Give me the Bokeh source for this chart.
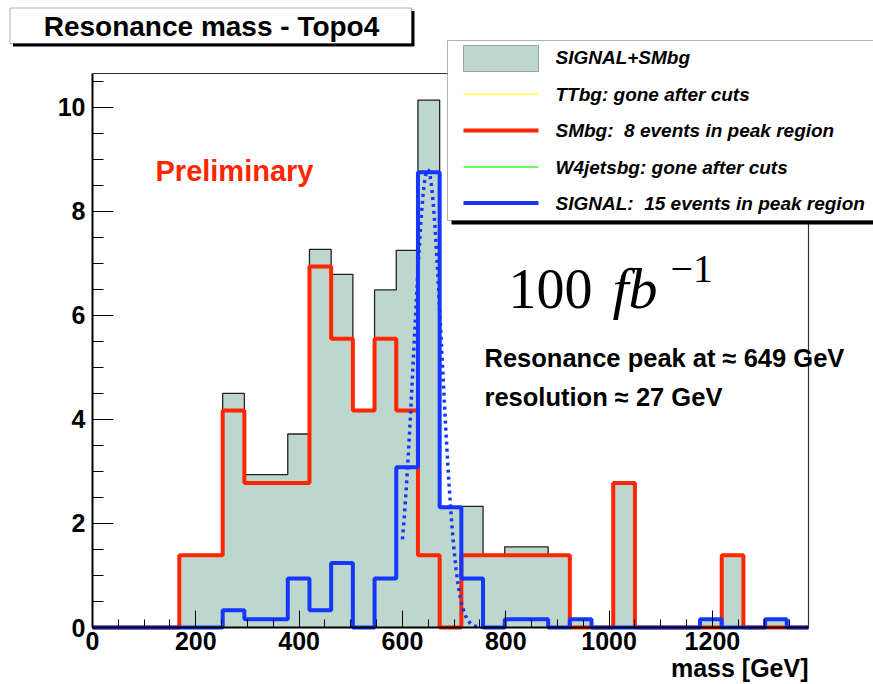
import numpy as np
from bokeh.plotting import figure
from bokeh.models import Range1d, FixedTicker, BoxAnnotation, Label, LinearAxis
from bokeh.embed import file_html
from bokeh.resources import INLINE

# ---- data ----
bin_width = 42
n_bins = 33
smbg = [0, 0, 0, 0, 1.39, 1.39, 4.17, 2.78, 2.78, 2.78, 6.94, 5.55, 4.17, 5.55, 4.17, 1.39,
        0, 1.39, 1.39, 1.39, 1.39, 1.39, 0, 0, 2.78, 0, 0, 0, 0, 1.39, 0, 0, 0]
signal = [0, 0, 0, 0, 0, 0, 0.33, 0.16, 0.16, 0.94, 0.33, 1.24, 0, 0.94, 3.08, 8.75,
          2.31, 0.94, 0, 0.16, 0.16, 0, 0.16, 0, 0, 0, 0, 0, 0.16, 0, 0, 0.16, 0]
fit_mean = 649.0
fit_sigma = 27.0
fit_amp = 8.8
fit_lo, fit_hi = 600.0, 755.0
x_ticks = [0, 200, 400, 600, 800, 1000, 1200]
y_ticks = [0, 2, 4, 6, 8, 10]

legend_labels = ["SIGNAL+SMbg", "TTbg: gone after cuts", "SMbg:\u00a0 8 events in peak region",
                 "W4jetsbg: gone after cuts", "SIGNAL:\u00a0 15 events in peak region"]

edges = np.arange(n_bins + 1) * bin_width
smbg = np.array(smbg)
signal = np.array(signal)
total = smbg + signal

# ---- styling ----
FILL = "#bdd7cf"
RED = "#ff2600"
BLUE = "#1436ff"
YELLOW = "#ffff40"
GREEN = "#30ff30"
FONT = "Liberation Sans"
SERIF = "Liberation Serif"

XMAX = n_bins * bin_width
YMAX = 10.65
W, H = 873, 684
# axis box location on the canvas (px)
AL, AR, AT, AB = 92, 808, 73, 627
XS = (AR - AL) / XMAX
YS = (AB - AT) / YMAX


def X(px):  # canvas px -> data x
    return (px - AL) / XS


def Y(py):  # canvas px -> data y
    return (AB - py) / YS


p = figure(width=W, height=H, output_backend="svg", toolbar_location=None,
           x_range=Range1d(X(0), X(W)), y_range=Range1d(Y(H), Y(0)),
           x_axis_location=None, y_axis_location=None,
           min_border=0, min_border_left=0, min_border_right=0,
           min_border_top=0, min_border_bottom=0)
p.grid.visible = False
p.outline_line_color = None
p.background_fill_color = "white"
p.border_fill_color = "white"

# histograms
p.varea_step(x=edges, y1=np.zeros(n_bins + 1), y2=np.append(total, total[-1]),
             step_mode="after", fill_color=FILL)
p.step(x=edges, y=np.append(total, total[-1]), mode="after", line_color="#222222", line_width=1.3)
p.step(x=edges, y=np.append(smbg, smbg[-1]), mode="after", line_color=RED, line_width=4)
p.step(x=edges, y=np.append(signal, signal[-1]), mode="after", line_color=BLUE, line_width=4)

xf = np.linspace(fit_lo, fit_hi, 200)
yf = fit_amp * np.exp(-0.5 * ((xf - fit_mean) / fit_sigma) ** 2)
p.line(xf, yf, line_color=BLUE, line_width=3.5, line_dash="3 4")

# frame top / right
p.line([0, XMAX, XMAX], [YMAX, YMAX, 0], line_color="#333333", line_width=1.2)

# axes
xaxis = LinearAxis(fixed_location=0, bounds=(0, XMAX))
yaxis = LinearAxis(fixed_location=0, bounds=(0, YMAX))
p.add_layout(xaxis, "below")
p.add_layout(yaxis, "left")
for ax in (xaxis, yaxis):
    ax.axis_line_width = 2
    ax.axis_line_color = "black"
    ax.major_tick_line_color = "black"
    ax.minor_tick_line_color = "black"
    ax.major_tick_out = 0
    ax.minor_tick_out = 0
    ax.major_label_text_font = FONT
    ax.major_label_text_font_style = "bold"
    ax.major_label_text_font_size = "25px"
    ax.major_label_text_color = "black"

xaxis.ticker = FixedTicker(ticks=x_ticks, minor_ticks=list(range(0, 1386, 50)))
xaxis.major_tick_in = 17
xaxis.minor_tick_in = 8
xaxis.major_label_standoff = 4
yaxis.ticker = FixedTicker(ticks=y_ticks, minor_ticks=list(np.arange(0, 10.6, 0.5)))
yaxis.major_tick_in = 21
yaxis.minor_tick_in = 11
yaxis.major_label_standoff = 7


def label(px, py, text, size, style="bold", font=FONT, color="black", align="left"):
    p.add_layout(Label(x=X(px), y=Y(py), text=text, text_align=align, text_baseline="middle",
                       text_font=font, text_font_style=style, text_font_size=size,
                       text_color=color))


# x axis title
label(808, 667, "mass [GeV]", "25px", align="right")

# title box
p.add_layout(BoxAnnotation(left=X(12.5), right=X(414), top=Y(10.5), bottom=Y(46),
                           fill_color="black", fill_alpha=1, line_alpha=0))
p.add_layout(BoxAnnotation(left=X(9.5), right=X(411), top=Y(7.5), bottom=Y(43),
                           fill_color="white", fill_alpha=1, line_color="black", line_width=1))
label(211, 25.5, "Resonance mass - Topo4", "28px", align="center")

# legend box
p.add_layout(BoxAnnotation(left=X(451), right=X(900), top=Y(44), bottom=Y(224),
                           fill_color="black", fill_alpha=1, line_alpha=0))
p.add_layout(BoxAnnotation(left=X(447), right=X(896), top=Y(40), bottom=Y(220),
                           fill_color="white", fill_alpha=1, line_color="black", line_width=1))
p.add_layout(BoxAnnotation(left=X(463), right=X(538), top=Y(45), bottom=Y(71),
                           fill_color=FILL, fill_alpha=1, line_color="black", line_width=1))
rows_y = [57, 93.5, 130, 166.5, 202.5]
swatches = [(None, 0), (YELLOW, 1.5), (RED, 4), (GREEN, 1.5), (BLUE, 4)]
for (col, lw), ry in zip(swatches, rows_y):
    if col is not None:
        p.add_layout(BoxAnnotation(left=X(463), right=X(538), top=Y(ry - lw / 2),
                                   bottom=Y(ry + lw / 2), fill_color=col, fill_alpha=1,
                                   line_alpha=0))
for txt, ry in zip(legend_labels, rows_y):
    label(555, ry, txt, "19px", style="bold italic")

# annotations
label(155, 170, "Preliminary", "29px", color=RED)
label(508, 288, "100", "56px", style="normal", font=SERIF)
label(612, 288, "fb", "58px", style="italic", font=SERIF)
label(670, 268, "\u22121", "40px", style="normal", font=SERIF)
label(484, 357, "Resonance peak at \u2248 649 GeV", "25.5px")
label(484, 396, "resolution \u2248 27 GeV", "25.5px")

open("out.html", "w").write(file_html(p, INLINE))
